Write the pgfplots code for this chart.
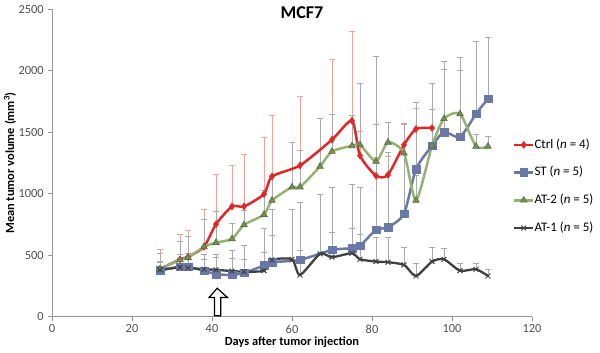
\documentclass[border=0pt]{standalone}
\usepackage{fontspec}
\setmainfont{Carlito}
\usepackage{pgfplots}
\usepackage{pgfplotstable}
\pgfplotsset{compat=1.18}
\definecolor{ctrl}{RGB}{225,40,40}
\definecolor{ctrlerr}{RGB}{238,165,155}
\definecolor{st}{RGB}{105,120,165}
\definecolor{at2}{RGB}{150,178,112}
\definecolor{at1}{RGB}{64,64,64}
\definecolor{errgray}{RGB}{170,170,170}
\definecolor{axgray}{RGB}{150,150,150}
\definecolor{tickgray}{RGB}{80,80,80}

\pgfplotstableread{
x y e
27 387 163
32 465 205
34 485 220
38 567 303
41 752 403
45 896 334
48 896 427
53 997 463
55 1140 500
62 1230 563
70 1440 652
75 1595 728
77 1310 200
81 1146 150
84 1154 150
88 1398 170
91 1527 170
95 1535 150
}\ctrldata
\pgfplotstableread{
x y e
27 375 70
32 406 100
34 405 110
38 373 130
41 345 160
45 338 200
48 355 220
53 415 300
55 442 430
62 461 467
70 542 506
75 556 516
77 575 480
81 705 1415
84 727 609
88 836 734
91 1200 544
95 1390 512
98 1502 577
102 1462 649
106 1650 592
109 1774 495
}\stdata
\pgfplotstableread{
x y e
27 387 130
32 460 150
34 480 170
38 567 220
41 602 250
45 632 130
48 746 120
53 830 200
55 945 200
60 1054 360
62 1054 300
67 1222 389
70 1344 300
75 1390 250
77 1398 504
81 1263 300
84 1418 163
88 1331 239
91 945 200
95 1390 300
98 1611 400
102 1650 350
106 1385 95
109 1385 80
}\attwodata
\pgfplotstableread{
x y e
27 380 60
32 400 70
34 395 70
38 385 80
41 380 100
45 370 100
48 365 100
53 373 150
55 461 200
60 466 403
62 338 200
67 510 481
70 483 200
75 515 200
77 466 200
81 447 200
84 442 200
88 420 144
91 330 100
95 447 117
98 466 90
102 373 60
106 385 50
109 330 50
}\atonedata

\pgfplotsset{
  errplot/.style={forget plot, draw=none, mark=none,
    error bars/.cd, y dir=plus, y explicit, error mark=|,
    error bar style={draw=#1, line width=0.8bp},
    error mark options={draw=#1, mark size=3bp, line width=0.8bp}},
}

\begin{document}
\fontsize{12.4bp}{14bp}\selectfont
\begin{tikzpicture}
\begin{axis}[
  scale only axis, width=480bp, height=307bp,
  xmin=0, xmax=120, ymin=0, ymax=2500,
  axis x line*=bottom, axis y line*=left,
  axis line style={axgray, line width=0.8bp},
  xtick={0,20,...,120}, ytick={0,500,...,2500},
  tick align=outside, major tick length=4bp,
  tick style={axgray, line width=0.8bp},
  tick label style={font=\fontsize{12.4bp}{14bp}\selectfont, text=tickgray},
  /pgf/number format/assume math mode=true,
  /pgf/number format/1000 sep={},
  xlabel={\textbf{Days after tumor injection}},
  xlabel style={at={(axis description cs:0.5,-0.083)}, anchor=center, font=\fontsize{12.4bp}{14bp}\selectfont},
  ylabel={\textbf{Mean tumor volume (mm\textsuperscript{3})}},
  ylabel style={at={(axis description cs:-0.0875,0.5)}, anchor=center, rotate=0, font=\fontsize{12.4bp}{14bp}\selectfont},
  clip=false,
  legend style={at={(axis cs:115.2,1450)}, anchor=north west, draw=none, fill=none,
    font=\fontsize{13bp}{14bp}\selectfont, row sep=15.2bp, inner sep=0pt,
    nodes={inner sep=0pt, text height=9.5bp, text depth=3bp}},
  legend cell align=left,
  legend image code/.code={
    \draw[#1, mark repeat=2, mark phase=2] plot coordinates {(0bp,0bp) (9.5bp,0bp) (19bp,0bp)};
    \hspace*{2bp}
  },
]
% error bars (behind)
\addplot[errplot=ctrlerr] table[x=x, y=y, y error=e] {\ctrldata};
\addplot[errplot=errgray] table[x=x, y=y, y error=e] {\stdata};
\addplot[errplot=errgray] table[x=x, y=y, y error=e] {\attwodata};
\addplot[errplot=errgray] table[x=x, y=y, y error=e] {\atonedata};
% lines
\addplot[ctrl, line width=2.5bp, smooth, tension=0.4, mark=diamond*, mark size=3.4bp, mark options={solid, fill=ctrl, line width=0.6bp}]
  table[x=x, y=y] {\ctrldata};
\addlegendentry{Ctrl (\textit{n} = 4)}
\addplot[st, line width=2.5bp, smooth, tension=0.4, mark=square*, mark size=3.8bp, mark options={solid, fill=st, line width=0.6bp}]
  table[x=x, y=y] {\stdata};
\addlegendentry{ST (\textit{n} = 5)}
\addplot[at2, line width=2.5bp, smooth, tension=0.4, mark=triangle*, mark size=3.8bp, mark options={solid, fill=at2!80!black, draw=at2!60!black, line width=0.6bp}]
  table[x=x, y=y] {\attwodata};
\addlegendentry{AT-2 (\textit{n} = 5)}
\addplot[at1, line width=2.3bp, smooth, tension=0.4, mark=x, mark size=3.4bp, mark options={solid, line width=1bp}]
  table[x=x, y=y] {\atonedata};
\addlegendentry{AT-1 (\textit{n} = 5)}
% title
\node[font=\bfseries\fontsize{18bp}{20bp}\selectfont] at (axis cs:62.5,2475) {MCF7};
% arrow
\draw[black, line width=1.2bp, fill=white, line join=miter]
  (axis cs:40.6,6) -- (axis cs:42.2,6) -- (axis cs:42.2,154) -- (axis cs:43.9,154)
  -- (axis cs:41.3,230) -- (axis cs:39.25,154) -- (axis cs:40.6,154) -- cycle;
\end{axis}
\pgfresetboundingbox
\path (-52bp,-36.5bp) rectangle (548bp,316.5bp);
\end{tikzpicture}
\end{document}
